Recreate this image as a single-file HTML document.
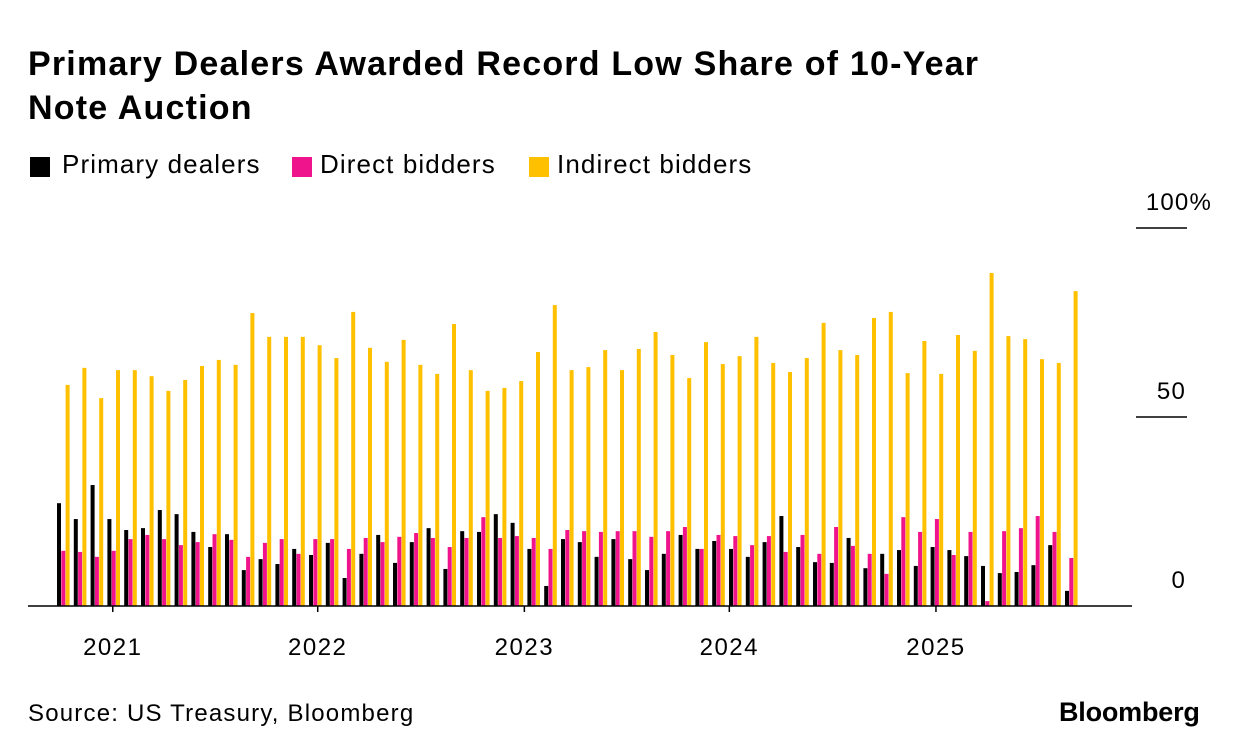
<!DOCTYPE html>
<html><head><meta charset="utf-8">
<style>
body{margin:0;background:#fff;font-family:"Liberation Sans",sans-serif;}
#wrap{position:relative;width:1240px;height:756px;overflow:hidden;}
.t{position:absolute;color:#000;white-space:nowrap;}
.sq{position:absolute;width:20px;height:20px;top:157px;}
.lg{position:absolute;top:149px;font-size:26px;letter-spacing:1.1px;color:#000;white-space:nowrap;}
</style></head><body>
<div id="wrap">
<div class="t" style="left:28px;top:42px;font-size:34px;font-weight:bold;line-height:44px;letter-spacing:1.2px;">Primary Dealers Awarded Record Low Share of 10-Year<br>Note Auction</div>
<div>
<div><span class="sq" style="left:30px;background:#000"></span><span class="lg" style="left:62px">Primary dealers</span></div>
<div><span class="sq" style="left:292px;background:#f0148c"></span><span class="lg" style="left:320px">Direct bidders</span></div>
<div><span class="sq" style="left:529px;background:#ffc000"></span><span class="lg" style="left:557px">Indirect bidders</span></div>
</div>
<svg id="chart" width="1240" height="756" style="position:absolute;left:0;top:0"></svg>
<div class="t" style="left:28px;top:700px;font-size:24px;letter-spacing:1.2px;">Source: US Treasury, Bloomberg</div>
<div class="t" style="left:1059px;top:697px;font-size:27px;font-weight:bold;letter-spacing:-0.2px;">Bloomberg</div>
</div>
<script>
const primary=[27.2,23,32,23,20.1,20.6,25.4,24.3,19.6,15.6,19,9.5,12.4,11.1,15.1,13.5,16.7,7.4,13.8,18.8,11.4,16.9,20.6,9.8,19.8,19.6,24.3,22,15.1,5.3,17.7,16.9,13,17.7,12.4,9.5,13.8,18.8,15.1,17.2,15.1,13,16.9,23.8,15.6,11.6,11.4,18,10,13.8,14.8,10.6,15.6,14.8,13.2,10.6,8.7,9,10.8,16.1,4];
const direct=[14.6,14.3,13,14.6,17.7,18.8,17.7,16.1,16.9,19,17.5,13,16.7,17.7,13.8,17.7,17.7,15.1,18,16.9,18.3,19.3,18,15.6,18,23.5,18,18.5,18,15.1,20.1,19.8,19.6,19.8,19.8,18.3,19.8,20.9,15.1,18.8,18.5,16.1,18.5,14.3,18.8,13.8,20.9,15.9,13.8,8.5,23.5,19.6,23,13.5,19.6,1.3,19.8,20.6,23.8,19.6,12.7];
const indirect=[58.5,63,55,62.4,62.4,60.8,56.9,59.8,63.5,65.1,63.8,77.5,71.2,71.2,71.2,69,65.6,77.8,68.3,64.6,70.4,63.8,61.4,74.6,62.4,56.9,57.7,59.5,67.2,79.6,62.4,63.2,67.7,62.4,68,72.5,66.4,60.3,69.8,64,66.1,71.2,64.3,61.9,65.6,74.9,67.7,66.4,76.2,77.8,61.6,70.1,61.4,71.7,67.5,88.1,71.4,70.6,65.3,64.3,83.3];
const yearLabels=["2021","2022","2023","2024","2025"];
const yearIndex=[3.2,15.4,27.7,39.9,52.2];
const yTicks=[0,50,100];
const yTickLabels=["0","50","100%"];

const svg=document.getElementById('chart');
const NS='http://www.w3.org/2000/svg';
const base=606, ppu=3.78;
const y=v=>base-v*ppu;
const x=i=>57+i*16.8;
function mk(tag,attrs){const e=document.createElementNS(NS,tag);for(const k in attrs)e.setAttribute(k,attrs[k]);svg.appendChild(e);return e;}
const series=[[primary,'#000',0,'bar-primary'],[direct,'#f0148c',4.3,'bar-direct'],[indirect,'#ffc000',8.6,'bar-indirect']];
series.forEach(([arr,col,off,name])=>{
  arr.forEach((v,i)=>{
    const r=mk('rect',{x:x(i)+off,y:y(v),width:4,height:v*ppu,fill:col});
    
    
  });
});
const bl=mk('line',{x1:28,x2:1132,y1:base,y2:base,stroke:'#000','stroke-width':1.5});


yearLabels.forEach((l,k)=>{
  const cx=x(yearIndex[k])+2;
  const tk=mk('line',{x1:cx,x2:cx,y1:base,y2:base+6,stroke:'#000','stroke-width':1.5});
  
  
  const t=mk('text',{x:cx,y:655,'text-anchor':'middle','font-size':24,'letter-spacing':1.5,'font-family':'Liberation Sans, sans-serif',fill:'#000'});
  t.textContent=l;
  
  
});
yTicks.forEach((v,k)=>{
  if(v>0){
    const g=mk('line',{x1:1136,x2:1187,y1:y(v),y2:y(v),stroke:'#000','stroke-width':1.5});
    
    
  }
  const t=mk('text',{x:1186,y:y(v)-18,'text-anchor':'end','font-size':24,'letter-spacing':1.2,'font-family':'Liberation Sans, sans-serif',fill:'#000'});
  if(v===100){t.setAttribute('x',1212);}
  t.textContent=yTickLabels[k];
  
  
});
</script>
</body></html>
